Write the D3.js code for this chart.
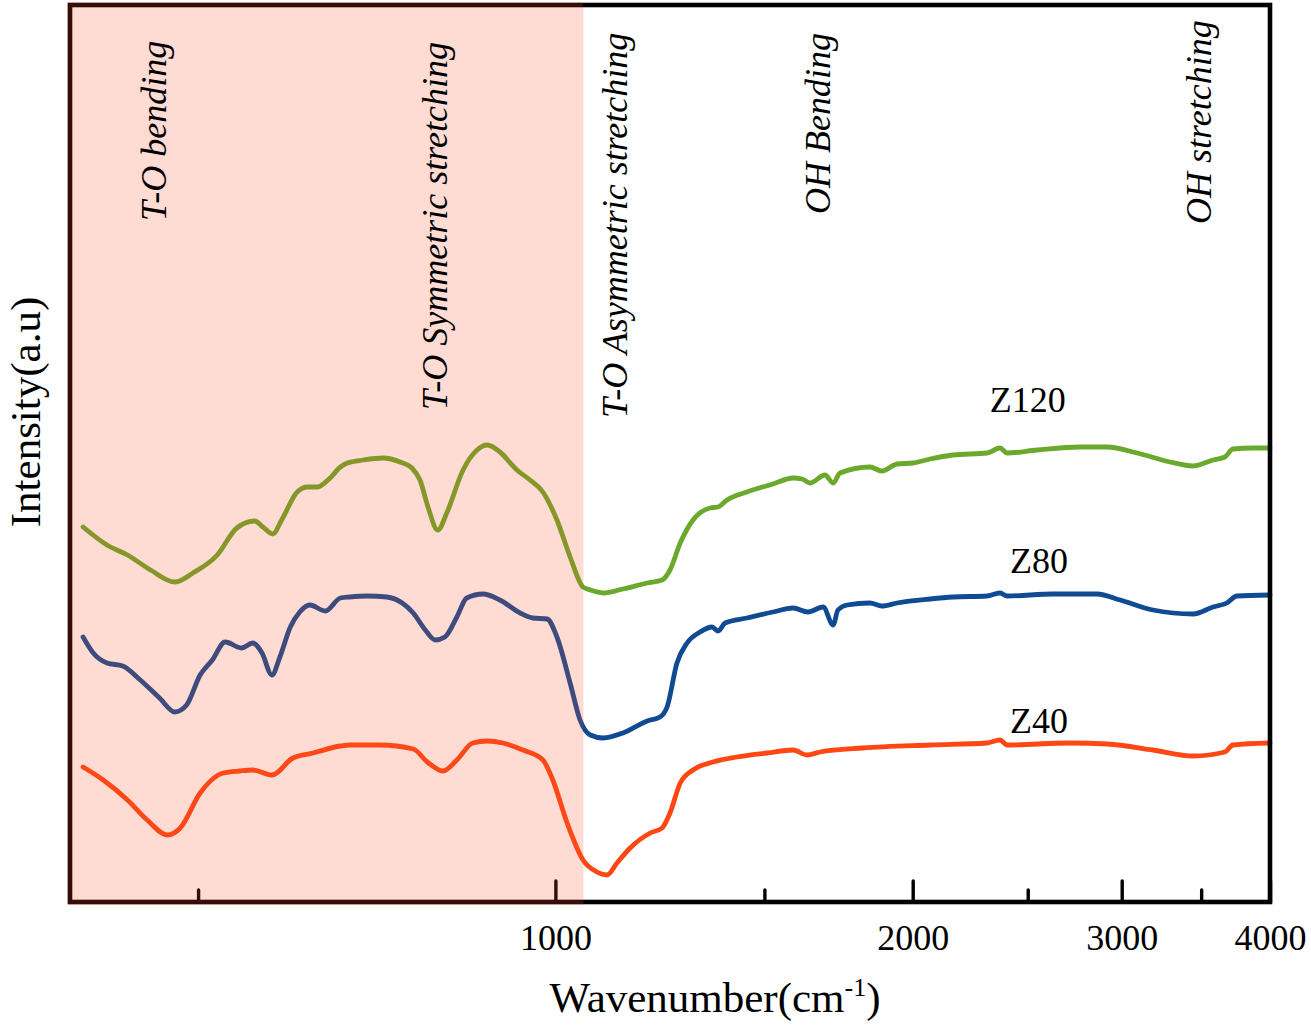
<!DOCTYPE html>
<html>
<head>
<meta charset="utf-8">
<script src="https://cdn.jsdelivr.net/npm/d3@7"></script>
<style>
  html, body { margin: 0; padding: 0; background: #ffffff; }
  svg { display: block; }
</style>
</head>
<body>
<svg id="chart" width="1311" height="1028"></svg>
<script>
// ---------------- DATA ----------------
const seriesNames = ["Z120", "Z80", "Z40"];

const z120Wave = [400,419,436,456,478,495,519,539,558,567,578,588,606,618,630,646,659,668,689,716,740,757,769,781,796,810,836,859,876,898,928,952,976,1003,1029,1055,1070,1097,1140,1195,1230,1249,1274,1306,1350,1371,1395,1450,1525,1586,1614,1639,1687,1714,1737,1841,1884,1940,2001,2068,2163,2310,2369,2402,2546,2767,2916,3091,3295,3446,3582,3665,3722,3870,4000];
const z120Int  = [373,355,345,330,318,327,345,372,379,373,366,380,408,413,413,422,433,437,440,442,438,432,420,393,370,387,430,450,455,448,430,420,408,380,343,313,310,307,311,317,320,330,357,380,392,393,400,408,416,422,421,417,425,417,427,433,429,436,437,441,445,447,452,447,450,453,453,447,438,434,440,443,451,452,452];

const z80Wave = [400,408,419,432,447,464,478,489,502,514,527,544,556,566,577,586,598,609,621,640,659,671,694,721,743,759,777,792,807,826,842,869,898,934,957,984,1003,1029,1049,1070,1097,1140,1195,1225,1242,1266,1291,1324,1355,1371,1390,1450,1525,1586,1632,1681,1714,1730,1761,1841,1884,1940,2068,2163,2310,2369,2402,2626,2860,2991,3188,3446,3582,3679,3751,4000];
const z80Int  = [263,247,237,234,220,202,188,195,225,240,258,252,257,247,225,243,273,288,295,289,302,303,304,303,297,287,270,260,263,283,302,306,300,287,282,281,263,217,180,165,162,167,179,183,193,237,257,268,273,269,277,282,288,292,288,293,275,290,295,297,294,297,301,303,304,307,304,306,306,300,290,286,293,297,304,305];

const z40Wave = [400,416,436,453,471,483,502,525,542,556,577,601,625,659,671,712,759,780,804,826,852,876,903,939,976,995,1023,1055,1084,1105,1127,1156,1202,1230,1249,1274,1306,1358,1422,1508,1586,1629,1671,1816,2068,2310,2369,2402,2714,2916,3188,3446,3665,3722,4000];
const z40Int  = [133,120,100,80,65,72,107,127,129,130,125,142,147,154,155,155,151,138,129,140,157,159,157,150,140,120,77,40,28,25,37,52,67,72,87,117,130,138,143,147,150,145,148,152,155,157,160,155,157,156,150,144,148,155,157];

const seriesColors = ["#6aa92b", "#0f4a92", "#ff4613"];
const seriesLabelWave = [2500, 2555, 2555];
const seriesLabelInt  = [488, 327, 167];

const majorTicks = [1000, 2000, 3000, 4000];
const minorTicks = [500, 1500, 2500, 3500];

const bandLabels = ["T-O bending", "T-O Symmetric stretching", "T-O Asymmetric stretching", "OH Bending", "OH stretching"];
const bandLabelWave = [470, 810, 1150, 1705, 3570];
const bandLabelStartY = [221, 410, 418, 214, 224];

const shadeRange = [390, 1056];

// ---------------- CHART ----------------
(function () {
const svg = d3.select("#chart");
const serif = "'Liberation Serif', 'Times New Roman', Times, serif";

const pLeft = 70, pRight = 1270, pTop = 5, pBottom = 902;
const x = d3.scaleLog().domain([390, 4000]).range([pLeft, pRight]);
const y = d3.scaleLinear().domain([-2, 895]).range([pBottom, pTop]);

const data = [
  z120Wave.map((w, i) => [w, z120Int[i]]),
  z80Wave.map((w, i) => [w, z80Int[i]]),
  z40Wave.map((w, i) => [w, z40Int[i]])
];

const line = d3.line()
  .x(d => x(d[0]))
  .y(d => y(d[1]))
  .curve(d3.curveMonotoneX);

// lines
svg.append("g").selectAll("path")
  .data(data)
  .join("path")
  .attr("d", line)
  .attr("fill", "none")
  .attr("stroke", (d, i) => seriesColors[i])
  .attr("stroke-width", 4.8)
  .attr("stroke-linejoin", "round")
  .attr("stroke-linecap", "round");

// axis ticks (inward)
const majorAxis = d3.axisBottom(x)
  .tickValues(majorTicks)
  .tickSizeInner(-21)
  .tickSizeOuter(0)
  .tickPadding(22)
  .tickFormat(d3.format("d"));
const gMaj = svg.append("g").attr("transform", `translate(0,${pBottom})`).call(majorAxis);
gMaj.select(".domain").remove();
gMaj.selectAll(".tick line").attr("stroke", "#000").attr("stroke-width", 3.4).attr("stroke-linecap", "round");
gMaj.selectAll(".tick text").attr("font-family", serif).attr("font-size", 36).attr("fill", "#000");

const minorAxis = d3.axisBottom(x)
  .tickValues(minorTicks)
  .tickSizeInner(-12)
  .tickSizeOuter(0)
  .tickFormat("");
const gMin = svg.append("g").attr("transform", `translate(0,${pBottom})`).call(minorAxis);
gMin.select(".domain").remove();
gMin.selectAll(".tick line").attr("stroke", "#000").attr("stroke-width", 3.4).attr("stroke-linecap", "round");

// frame
svg.append("rect")
  .attr("x", pLeft).attr("y", pTop)
  .attr("width", pRight - pLeft).attr("height", pBottom - pTop)
  .attr("fill", "none")
  .attr("stroke", "#000")
  .attr("stroke-width", 4.6);

// shaded region (overlay)
svg.append("rect")
  .attr("x", pLeft - 3)
  .attr("y", pTop - 3)
  .attr("width", x(shadeRange[1]) - (pLeft - 3))
  .attr("height", pBottom - pTop + 6)
  .attr("fill", "rgb(248,80,40)")
  .attr("fill-opacity", 0.2);

// band annotations
bandLabels.forEach((t, i) => {
  svg.append("text")
    .attr("transform", `translate(${x(bandLabelWave[i])},${bandLabelStartY[i]}) rotate(-90)`)
    .attr("font-family", serif)
    .attr("font-style", "italic")
    .attr("font-size", 36)
    .attr("fill", "#000")
    .text(t);
});

// series labels
seriesNames.forEach((n, i) => {
  svg.append("text")
    .attr("x", x(seriesLabelWave[i]))
    .attr("y", y(seriesLabelInt[i]))
    .attr("text-anchor", "middle")
    .attr("font-family", serif)
    .attr("font-size", 36)
    .attr("fill", "#000")
    .text(n);
});

// axis titles
const xt = svg.append("text")
  .attr("x", 715)
  .attr("y", 1012)
  .attr("text-anchor", "middle")
  .attr("font-family", serif)
  .attr("font-size", 43)
  .attr("fill", "#000");
xt.append("tspan").text("Wavenumber(cm");
xt.append("tspan").attr("dy", -16).attr("font-size", 26).text("-1");
xt.append("tspan").attr("dy", 16).text(")");

svg.append("text")
  .attr("transform", `translate(40,412) rotate(-90)`)
  .attr("text-anchor", "middle")
  .attr("font-family", serif)
  .attr("font-size", 43)
  .attr("fill", "#000")
  .text("Intensity(a.u)");
})();
</script>
</body>
</html>
